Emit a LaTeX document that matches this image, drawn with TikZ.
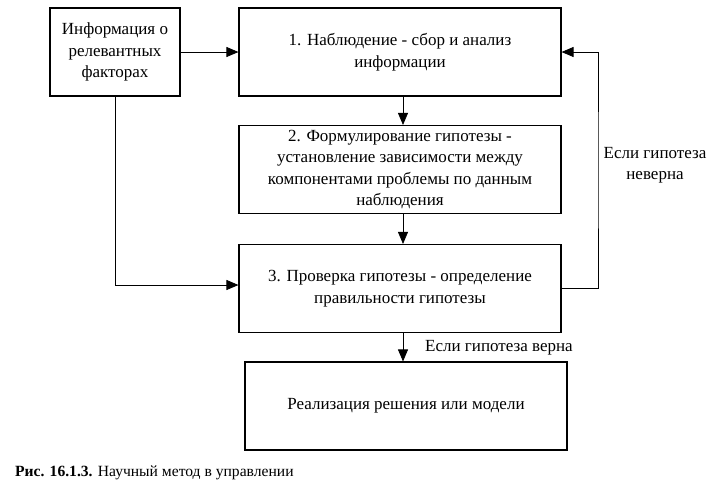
\documentclass[tikz,border=0pt]{standalone}
\usepackage{fontspec}
\setmainfont{Liberation Serif}
\usetikzlibrary{arrows.meta}
\begin{document}
\begin{tikzpicture}[x=1pt,y=-1pt,
    box/.style={shape=rectangle,draw=black,line width=1.1pt,minimum height=88pt,inner sep=0pt,align=center,font=\fontsize{17}{21.5}\selectfont},
    lbl/.style={align=center,inner sep=0pt,font=\fontsize{17}{21.5}\selectfont},
    arr/.style={-{Triangle[length=12pt,width=10pt]},line width=0.8pt}]
        \useasboundingbox (0,0) rectangle (720,499);
        \node[box,minimum width=130pt] (info) at (115,52) {Информация о\\релевантных\\факторах};
        \node[box,minimum width=322pt] (obs) at (400,52) {1. Наблюдение - сбор и анализ\\информации};
        \node[box,minimum width=322pt] (hyp) at (400,169.5) {2. Формулирование гипотезы -\\установление зависимости между\\компонентами проблемы по данным\\наблюдения};
        \node[box,minimum width=322pt] (test) at (400,288.5) {3. Проверка гипотезы - определение\\правильности гипотезы};
        \node[box,minimum width=322pt] (impl) at (406,406) {Реализация решения или модели};
        \coordinate (back) at (598,170);
        \draw[arr] (info) -- (obs);
        \draw[arr] ([xshift=3pt]obs.south) -- ([xshift=3pt]hyp.north);
        \draw[arr] ([xshift=3pt]hyp.south) -- ([xshift=3pt]test.north);
        \draw[arr] ([xshift=3pt]test.south) -- ([xshift=-3pt]impl.north);
        \draw[arr] (info.south) |- ([yshift=3.5pt]test.west);
        \draw[arr] (test.east) -| (back) |- (obs.east);
        \node[lbl] (no) at (655,165) {Если гипотеза\\неверна};
        \node[lbl,anchor=west] (yes) at (425,348) {Если гипотеза верна};
        \node[lbl,anchor=west,font=\fontsize{15.6}{18}\selectfont] (cap) at (15,473) {\textbf{Рис. 16.1.3.} Научный метод в управлении};
\end{tikzpicture}
\end{document}
